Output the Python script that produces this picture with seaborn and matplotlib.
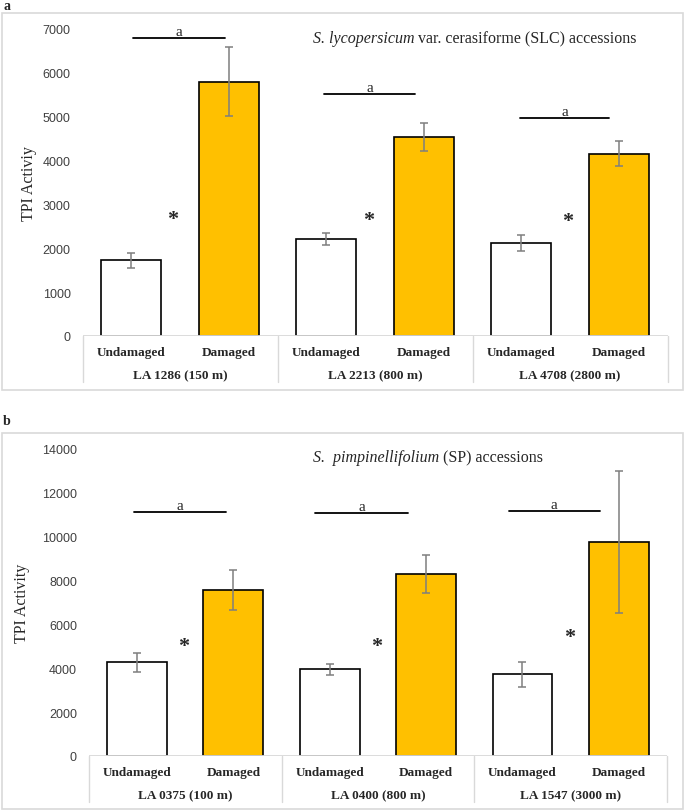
import numpy as np
import pandas as pd
import matplotlib
matplotlib.use("Agg")
import matplotlib.pyplot as plt
from matplotlib.patches import Rectangle
import seaborn as sns

# ---------------------------------------------------------------------------
# Data
# ---------------------------------------------------------------------------

TREATMENTS = ["Undamaged", "Damaged"]

SLC_ACCESSIONS = ["LA 1286 (150 m)", "LA 2213 (800 m)", "LA 4708 (2800 m)"]
SLC_MEAN = [1730, 5800, 2210, 4540, 2120, 4160]
SLC_SE = [170, 780, 145, 315, 180, 280]
SLC_SIG_Y = [6790, 5520, 4970]
SLC_STAR_Y = [2830, 2810, 2780]

SP_ACCESSIONS = ["LA 0375 (100 m)", "LA 0400 (800 m)", "LA 1547 (3000 m)"]
SP_MEAN = [4270, 7570, 3950, 8300, 3725, 9745]
SP_SE = [425, 925, 245, 880, 577, 3230]
SP_SIG_Y = [11140, 11080, 11190]
SP_STAR_Y = [5335, 5335, 5715]

COLOURS = {"Undamaged": "white", "Damaged": "#FFC000"}
GRID_GREY = "#D9D9D9"
SERIF = "Liberation Serif"
SANS = "Liberation Sans"

W, H = 685, 812
STAR_SIZE = 16


def px_rect(x0, y0, x1, y1):
    """Pixel box (top-left origin) -> figure fraction [l, b, w, h]."""
    return [x0 / W, 1 - y1 / H, (x1 - x0) / W, (y1 - y0) / H]


def draw_panel(ax, accessions, means, se, sig_y, sig_x, star_x, star_y,
               ymax, ystep, ylabel, ylabel_x, title_it, title_rest):
    df = pd.DataFrame({
        "bar": [f"{acc}|{t}" for acc in accessions for t in TREATMENTS],
        "treatment": TREATMENTS * len(accessions),
        "mean": means,
    })
    sns.barplot(data=df, x="bar", y="mean", hue="treatment",
                palette=COLOURS, saturation=1, dodge=False, width=0.62,
                edgecolor="black", linewidth=1.2, errorbar=None,
                legend=False, ax=ax)
    pos = np.arange(len(df))
    ax.errorbar(pos, df["mean"], yerr=se, fmt="none", ecolor="#7F7F7F",
                elinewidth=1.1, capsize=2.6, capthick=1.1, zorder=4)

    ax.set_xlim(-0.5, len(df) - 0.5)
    ax.set_ylim(0, ymax)
    ax.set_yticks(np.arange(0, ymax + 1, ystep))
    ax.tick_params(axis="y", length=0, pad=8.5, labelsize=9,
                   labelcolor="#404040")
    for lab in ax.get_yticklabels():
        lab.set_fontfamily(SANS)
    ax.set_xticks([])
    ax.set_xlabel("")
    ax.set_ylabel(ylabel, fontfamily=SERIF, fontsize=11.5)
    ax.yaxis.set_label_coords(ylabel_x, 0.5)
    for sp in ax.spines.values():
        sp.set_visible(False)

    # Multi-level category axis
    ax.axhline(0, color=GRID_GREY, lw=1.3, zorder=5)
    trans = ax.get_xaxis_transform()
    for xs in np.arange(-0.5, len(df), 2):
        ax.plot([xs, xs], [0, -0.15], transform=trans, clip_on=False,
                color=GRID_GREY, lw=1)
    for i, t in enumerate(df["treatment"]):
        ax.text(i, -0.052, t, transform=trans, ha="center", va="center",
                fontfamily=SERIF, fontweight="bold", fontsize=9.5)
    for g, acc in enumerate(accessions):
        ax.text(2 * g + 0.5, -0.128, acc, transform=trans, ha="center",
                va="center", fontfamily=SERIF, fontweight="bold",
                fontsize=9.5)

    # Significance bars and stars
    for (x0, x1), y in zip(sig_x, sig_y):
        ax.plot([x0, x1], [y, y], color="black", lw=1.3)
        ax.text((x0 + x1) / 2, y, "a", ha="center", va="bottom",
                fontfamily=SERIF, fontsize=11)
    for x, y in zip(star_x, star_y):
        # the serif asterisk sits high in its box: anchor on the baseline
        ax.annotate("*", xy=(x, y), xytext=(0, -0.53 * STAR_SIZE),
                    textcoords="offset points", ha="center", va="baseline",
                    fontfamily=SERIF, fontweight="bold", fontsize=STAR_SIZE)

    # Title: italic species name followed by roman text
    t1 = ax.text(title_it[0], title_it[1], title_it[2], transform=ax.transAxes,
                 ha="left", va="center", fontfamily=SERIF, fontstyle="italic",
                 fontsize=11.5)
    ax.annotate(title_rest, xy=(1, 0.5), xycoords=t1, ha="left", va="center",
                fontfamily=SERIF, fontsize=11.5)


sns.set_style("white")
fig = plt.figure(figsize=(W / 100, H / 100), dpi=100)

# panel frames and letters
for box in [(1.5, 14, 683, 390.5), (1.5, 434, 683, 810)]:
    l, b, w, h = px_rect(*box)
    fig.add_artist(Rectangle((l, b), w, h, transform=fig.transFigure,
                             fill=False, edgecolor=GRID_GREY, lw=1.2))
fig.text(3 / W, 1 - 6 / H, "a", fontfamily=SERIF, fontweight="bold",
         fontsize=10, va="center", ha="left")
fig.text(3 / W, 1 - 422 / H, "b", fontfamily=SERIF, fontweight="bold",
         fontsize=10, va="center", ha="left")

ax_a = fig.add_axes(px_rect(82.5, 30, 667.5, 337))
draw_panel(ax_a, SLC_ACCESSIONS, SLC_MEAN, SLC_SE, SLC_SIG_Y,
           [(0.02, 0.96), (1.98, 2.91), (3.99, 4.90)],
           [0.42, 2.43, 4.48], SLC_STAR_Y,
           7000, 1000, "TPI Activiy", -0.078,
           (0.394, 0.97, "S. lycopersicum"), " var. cerasiforme (SLC) accessions")

ax_b = fig.add_axes(px_rect(88.75, 450, 667, 757))
draw_panel(ax_b, SP_ACCESSIONS, SP_MEAN, SP_SE, SP_SIG_Y,
           [(-0.03, 0.92), (1.85, 2.81), (3.86, 4.80)],
           [0.48, 2.49, 4.49], SP_STAR_Y,
           14000, 2000, "TPI Activity", -0.102,
           (0.388, 0.974, "S.  pimpinellifolium"), " (SP) accessions")

fig.savefig("out.png", dpi=100)
